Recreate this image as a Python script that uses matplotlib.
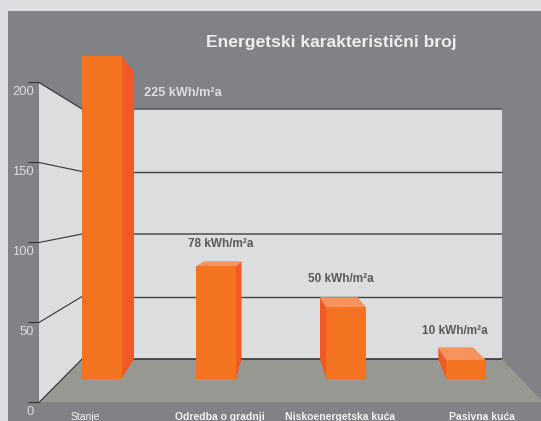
import matplotlib
matplotlib.use('Agg')
import matplotlib.pyplot as plt
from matplotlib.patches import Polygon

# categories and values
categories = ['Stanje', 'Odredba o gradnji', 'Niskoenergetska kuća', 'Pasivna kuća']
value_labels = ['225 kWh/m²a', '78 kWh/m²a', '50 kWh/m²a', '10 kWh/m²a']
# bar heights as drawn on the front plane of the picture
bar_heights = [225, 78.5, 50, 13]
y_ticks = [0, 50, 100, 150, 200]
title = 'Energetski karakteristični broj'

# colours
page = '#dcdddf'
panel = '#808285'
floor = '#979892'
front = '#f47321'
side = '#f15a24'
top = '#f7945d'
dark_text = '#58595b'

# geometry in pixels
W, H = 541, 421
base_y = 379
px_per_unit = 1.436
bar_left = [82, 196, 326.3, 446.3]
bar_width = [39.5, 40, 39.7, 39.7]
depth_x = [12.5, 5.5, -6.3, -8]        # sideways shift of the back edge
top_shift = [16, -5, -10, -13]         # vertical shift of the back top edge
top_inset = [0, 8, -8.5, -13]          # how far the back edge of the top is pulled in
floor_y = 359


def py(v):
    return base_y - v * px_per_unit


fig = plt.figure(figsize=(W / 100, H / 100), dpi=100, facecolor=page)

# pixel layer for panel, walls, floor and text
bg = fig.add_axes([0, 0, 1, 1])
bg.set_xlim(0, W)
bg.set_ylim(H, 0)
bg.axis('off')

bg.add_patch(Polygon([(8, 11), (W, 11), (W, H), (8, H)], fc=panel, ec='none'))
bg.add_patch(Polygon([(39, 83), (82, 109), (82, 359), (39, 402.5)], fc=page, ec='none'))
bg.add_patch(Polygon([(82, 109), (502, 109), (502, 359), (82, 359)], fc=page, ec='none'))
bg.add_patch(Polygon([(82, 359), (502, 359), (541, 400), (541, 402), (39, 402)], fc=floor, ec='none'))

# grid on back wall and left wall
for t in y_ticks:
    yb = 359 - t * 1.25
    yl = 402.5 - t * 1.6
    col = '#414042' if t in (0, 50, 150) else '#636466'
    lw = 1.0 if t in (50, 150) else 1.3
    bg.plot([82, 502], [yb, yb], color=col, lw=lw, solid_capstyle='butt')
    bg.plot([29, 39, 82], [yl, yl, yb], color='#333436', lw=0.8, solid_joinstyle='miter')
    bg.text(34, yl + 9.8, str(t), color=page, fontsize=9.4, ha='right', va='center',
            family='Liberation Sans')

# side and top faces of the bars, above the grid lines
for i in range(4):
    left = bar_left[i]
    right = left + bar_width[i]
    y1 = py(bar_heights[i])
    y2 = y1 + top_shift[i]
    dx = depth_x[i]
    edge = right if dx > 0 else left
    bg.add_patch(Polygon([(edge, y1), (edge + dx, y2), (edge + dx, floor_y), (edge, base_y)],
                         fc=side, ec='none', zorder=3))
    if i > 0:
        if dx > 0:
            pts = [(left, y1), (right, y1), (right + dx, y2), (left + top_inset[i], y2)]
        else:
            pts = [(left, y1), (right, y1), (right + top_inset[i], y2), (left + dx, y2)]
        bg.add_patch(Polygon(pts, fc=top, ec='none', zorder=3))

# value layer: front faces of the bars
ax = fig.add_axes([0, 0, 1, 1])
ax.patch.set_alpha(0)
ax.set_xlim(0, W)
ax.set_ylim(-(H - base_y) / px_per_unit, base_y / px_per_unit)
ax.axis('off')
ax.bar(bar_left, bar_heights, width=bar_width, align='edge', color=front)

# text
bg.text(331, 43, title, color='#eeeeef', fontsize=12.6, fontweight='bold', ha='center', va='center',
        family=['Liberation Sans Narrow', 'Liberation Sans'], zorder=5)

label_x = [183, 221, 340.5, 454.5]
label_y = [93, 244, 279, 331]
label_col = [page, dark_text, dark_text, dark_text]
label_size = [9.2, 8.5, 8.5, 8.5]
for i in range(4):
    bg.text(label_x[i], label_y[i], value_labels[i], color=label_col[i], fontsize=label_size[i],
            fontweight='bold', ha='center', va='center', family='Liberation Sans', zorder=5)

cat_x = [85.5, 220, 340.5, 482]
cat_w = ['normal', 'bold', 'bold', 'bold']
for i in range(4):
    bg.text(cat_x[i], 416.5, categories[i], color='#f1f1f2', fontsize=7.5, fontweight=cat_w[i],
            ha='center', va='center', family='Liberation Sans', clip_on=False, zorder=5)

fig.savefig('out.png', dpi=100, facecolor=page)
